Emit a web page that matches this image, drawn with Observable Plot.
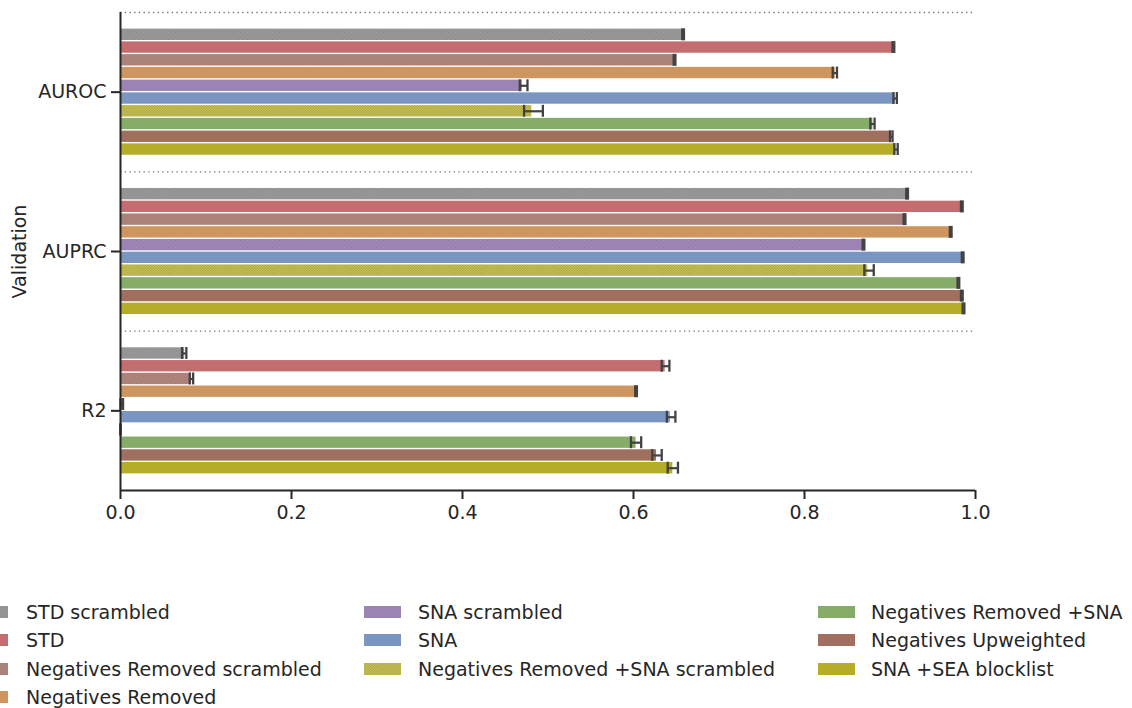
<!DOCTYPE html>
<html>
<head>
<meta charset="utf-8">
<script src="https://cdn.jsdelivr.net/npm/d3@7"></script>
<script src="https://cdn.jsdelivr.net/npm/@observablehq/plot@0.6"></script>
<style>
  html, body { margin: 0; padding: 0; background: #ffffff; }
  body { width: 1132px; height: 708px; position: relative; overflow: hidden; font-family: "DejaVu Sans", sans-serif; color: #262626; }
  #chart { position: absolute; left: 0; top: 0; }
  .lg-swatch { position: absolute; }
  .lg-text { position: absolute; white-space: nowrap; font-size: 19px; color: #262626; line-height: 22px; }
</style>
</head>
<body>
<svg width="0" height="0" style="position:absolute">
  <defs>
    <pattern id="hatch" width="2.6" height="2.6" patternUnits="userSpaceOnUse">
      <path d="M0,0 L2.6,2.6 M2.6,0 L0,2.6" stroke="rgba(50,50,50,0.26)" stroke-width="0.55" fill="none"/>
    </pattern>
  </defs>
</svg>
<div id="chart"></div>
<div id="legend"></div>
<script>
// Metric groups, top to bottom
const metrics = ["AUROC", "AUPRC", "R2"];

// Model variants, in drawing order within each group
const series = [
  "STD scrambled",
  "STD",
  "Negatives Removed scrambled",
  "Negatives Removed",
  "SNA scrambled",
  "SNA",
  "Negatives Removed +SNA scrambled",
  "Negatives Removed +SNA",
  "Negatives Upweighted",
  "SNA +SEA blocklist"
];
const seriesColors = [
  "#a0a0a0", "#c46d70", "#b98b81", "#cf955f", "#a78dc2",
  "#7a96c0", "#cbc450", "#86ad68", "#a06f5f", "#b5ac28"
];
const hatched = [true, false, true, false, true, false, true, false, false, false];

// Mean scores and confidence interval bounds per metric
const aurocMean = [0.658, 0.904, 0.648, 0.836, 0.470, 0.906, 0.481, 0.880, 0.902, 0.907];
const aurocLo   = [0.657, 0.903, 0.647, 0.833, 0.467, 0.904, 0.472, 0.877, 0.900, 0.905];
const aurocHi   = [0.659, 0.905, 0.649, 0.838, 0.476, 0.908, 0.494, 0.882, 0.903, 0.909];

const auprcMean = [0.920, 0.984, 0.917, 0.971, 0.869, 0.985, 0.874, 0.980, 0.984, 0.986];
const auprcLo   = [0.919, 0.983, 0.916, 0.970, 0.868, 0.984, 0.870, 0.979, 0.983, 0.985];
const auprcHi   = [0.921, 0.985, 0.918, 0.972, 0.870, 0.986, 0.881, 0.981, 0.985, 0.987];

const r2Mean = [0.075, 0.637, 0.083, 0.603, 0.002, 0.643, 0.000, 0.603, 0.627, 0.646];
const r2Lo   = [0.072, 0.633, 0.081, 0.602, 0.000, 0.639, 0.000, 0.597, 0.622, 0.640];
const r2Hi   = [0.077, 0.642, 0.085, 0.604, 0.003, 0.649, 0.000, 0.609, 0.633, 0.652];

const xTicks = [0, 0.2, 0.4, 0.6, 0.8, 1.0];

const means = [aurocMean, auprcMean, r2Mean];
const lows = [aurocLo, auprcLo, r2Lo];
const highs = [aurocHi, auprcHi, r2Hi];

// Each group occupies 0.8 of its unit band, split evenly among the variants
const groupWidth = 0.8;
const step = groupWidth / series.length;

const rows = [];
metrics.forEach((m, g) => {
  series.forEach((s, k) => {
    rows.push({
      metric: m,
      series: s,
      color: seriesColors[k],
      hatched: hatched[k],
      value: means[g][k],
      lo: lows[g][k],
      hi: highs[g][k],
      y1: g - groupWidth / 2 + k * step,
      y2: g - groupWidth / 2 + (k + 1) * step,
      yc: g - groupWidth / 2 + (k + 0.5) * step
    });
  });
});

const separators = [-0.5, 0.5, 1.5];
const ink = "#262626";
const errInk = "#424242";

const chart = Plot.plot({
  width: 1132,
  height: 545,
  marginLeft: 120,
  marginRight: 157,
  marginTop: 12,
  marginBottom: 55,
  style: { fontFamily: "DejaVu Sans, sans-serif", fontSize: "19px", color: ink, background: "white", overflow: "visible" },
  x: { domain: [0, 1] },
  y: { domain: [-0.5, 2.5], reverse: true },
  marks: [
    Plot.ruleY(separators, { stroke: "#777", strokeWidth: 1.4, strokeDasharray: "1.4,3.3" }),
    Plot.rect(rows, {
      x1: 0, x2: "value", y1: "y1", y2: "y2",
      fill: "color", insetTop: 0.7, insetBottom: 0.7
    }),
    Plot.rect(rows.filter(d => d.hatched), {
      x1: 0, x2: "value", y1: "y1", y2: "y2",
      fill: "url(#hatch)", insetTop: 0.7, insetBottom: 0.7
    }),
    Plot.ruleY(rows, { y: "yc", x1: "lo", x2: "hi", stroke: errInk, strokeWidth: 2.2 }),
    Plot.ruleX(rows, { x: "lo", y1: "y1", y2: "y2", stroke: errInk, strokeWidth: 2.3, insetTop: 0.4, insetBottom: 0.4 }),
    Plot.ruleX(rows, { x: "hi", y1: "y1", y2: "y2", stroke: errInk, strokeWidth: 2.3, insetTop: 0.4, insetBottom: 0.4 }),
    Plot.ruleX([0], { stroke: ink, strokeWidth: 2 }),
    Plot.ruleY([2.5], { stroke: ink, strokeWidth: 2 }),
    Plot.axisX({
      ticks: xTicks, tickFormat: d3.format(".1f"), tickSize: 9, tickPadding: 6,
      strokeWidth: 2, label: null, fill: ink
    }),
    Plot.axisY({
      ticks: [0, 1, 2], tickFormat: i => metrics[i], tickSize: 9, tickPadding: 5,
      strokeWidth: 2, label: "Validation", labelAnchor: "center", labelOffset: 108, labelArrow: "none", fill: ink
    })
  ]
});
document.getElementById("chart").appendChild(chart);

// Legend: three columns below the chart
const legend = document.getElementById("legend");
const colSwatchLeft = [-29, 364, 818];
const colTextLeft = [26, 418, 871];
const rowCenter = [611.5, 640.2, 668.8, 697.4];
const perColumn = [4, 3, 3];
let idx = 0;
perColumn.forEach((n, c) => {
  for (let r = 0; r < n; r++, idx++) {
    const k = idx;
    const sw = document.createElementNS("http://www.w3.org/2000/svg", "svg");
    sw.setAttribute("width", 37);
    sw.setAttribute("height", 12);
    sw.setAttribute("class", "lg-swatch");
    sw.style.left = colSwatchLeft[c] + "px";
    sw.style.top = (rowCenter[r] - 6) + "px";
    sw.innerHTML = `<rect width="37" height="12" fill="${seriesColors[k]}"/>` +
      (hatched[k] ? `<rect width="37" height="12" fill="url(#hatch)"/>` : "");
    legend.appendChild(sw);
    const t = document.createElement("div");
    t.className = "lg-text";
    t.textContent = series[k];
    t.style.left = colTextLeft[c] + "px";
    t.style.top = (rowCenter[r] - 11) + "px";
    legend.appendChild(t);
  }
});
</script>
</body>
</html>
